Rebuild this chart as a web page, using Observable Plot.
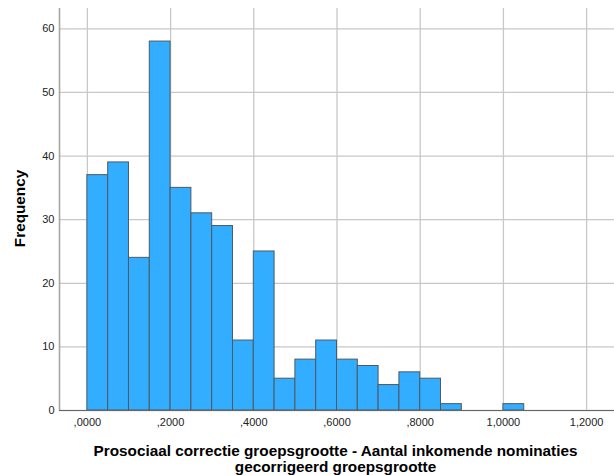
<!DOCTYPE html>
<html>
<head>
<meta charset="utf-8">
<script src="https://cdn.jsdelivr.net/npm/d3@7"></script>
<script src="https://cdn.jsdelivr.net/npm/@observablehq/plot@0.6"></script>
<style>
  html, body { margin: 0; padding: 0; background: #fff; }
  #chart svg { display: block; font-family: "Liberation Sans", Arial, sans-serif; }
</style>
</head>
<body>
<div id="chart"></div>
<script>
// Histogram bins (lower/upper edges) and frequencies
const binStart = [0.00, 0.05, 0.10, 0.15, 0.20, 0.25, 0.30, 0.35, 0.40, 0.45, 0.50, 0.55, 0.60, 0.65, 0.70, 0.75, 0.80, 0.85, 1.00];
const binEnd   = [0.05, 0.10, 0.15, 0.20, 0.25, 0.30, 0.35, 0.40, 0.45, 0.50, 0.55, 0.60, 0.65, 0.70, 0.75, 0.80, 0.85, 0.90, 1.05];
const counts   = [37, 39, 24, 58, 35, 31, 29, 11, 25, 5, 8, 11, 8, 7, 4, 6, 5, 1, 1];
const xTicks = [0, 0.2, 0.4, 0.6, 0.8, 1.0, 1.2];
const yTicks = [0, 10, 20, 30, 40, 50, 60];
const xTitle = "Prosociaal correctie groepsgrootte - Aantal inkomende nominaties\ngecorrigeerd groepsgrootte";
const yTitle = "Frequency";

const bins = binStart.map((s, i) => ({x1: s, x2: binEnd[i], y: counts[i]}));

const xDomain = [-0.067, 1.267];
const yDomain = [0, 63.2];

const fmtX = d => {
  let s = d3.format(".4f")(d).replace(".", ",");
  if (s.startsWith("0,")) s = s.slice(1);
  return s;
};

const chart = Plot.plot({
  width: 614,
  height: 475,
  marginLeft: 59,
  marginRight: 0,
  marginTop: 8,
  marginBottom: 65,
  style: { fontFamily: "Liberation Sans, Arial, sans-serif", background: "#fff" },
  x: { domain: xDomain },
  y: { domain: yDomain },
  marks: [
    Plot.gridY(yTicks, { stroke: "#c8c8c8", strokeOpacity: 1, strokeWidth: 1.3 }),
    Plot.gridX(xTicks, { stroke: "#c8c8c8", strokeOpacity: 1, strokeWidth: 1.3 }),
    Plot.rectY(bins, { x1: "x1", x2: "x2", y: "y", fill: "#33adff", stroke: "#4d5a63", strokeWidth: 1, inset: 0 }),
    Plot.ruleX([xDomain[0]], { stroke: "#a6a6a6", strokeWidth: 1.6 }),
    Plot.ruleY([0], { stroke: "#666", strokeWidth: 1.2 }),
    Plot.axisY(yTicks, { tickSize: 0, tickPadding: 5, fontSize: 11, color: "#222", label: null }),
    Plot.axisX(xTicks, { tickSize: 0, tickPadding: 8, fontSize: 11, color: "#222", label: null, tickFormat: fmtX }),
    Plot.text([xTitle], { frameAnchor: "bottom", lineAnchor: "middle", dy: 48, dx: -1.5, fontSize: 15.3, fontWeight: "bold", fill: "#000", lineHeight: 1.05 }),
    Plot.text([yTitle], { frameAnchor: "left", textAnchor: "middle", dx: -39, dy: -1, rotate: -90, fontSize: 15.3, fontWeight: "bold", fill: "#000" })
  ]
});
document.getElementById("chart").append(chart);
</script>
</body>
</html>
